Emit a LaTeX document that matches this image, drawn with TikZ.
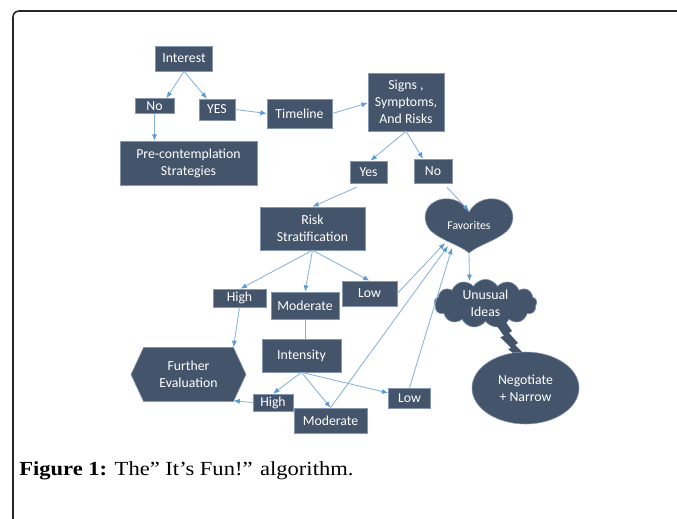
\documentclass[tikz,border=0pt]{standalone}
\usepackage{fontspec}
\setmainfont{Liberation Serif}
\newfontfamily\boxfont{Carlito}
\newfontfamily\captionfont[FakeStretch=1.13]{Liberation Serif}
\usetikzlibrary{arrows.meta,shapes.geometric,shapes.symbols,calc}
\definecolor{slate}{HTML}{44546A}
\definecolor{slateedge}{HTML}{8496B0}
\definecolor{linkblue}{HTML}{8AB0DC}
\definecolor{tipblue}{HTML}{5B9BD5}
\begin{document}
\begin{tikzpicture}[x=0.025cm,y=-0.025cm,
  lbl/.style={font=\boxfont\fontsize{9.8}{12}\selectfont, text=white, align=center},
  slatebox/.style 2 args={lbl, draw=slateedge, line width=0.4pt, fill=slate,
    inner sep=0pt, minimum width=#1*0.025cm, minimum height=#2*0.025cm},
  link/.style={draw=linkblue, line width=0.6pt,
    -{Latex[length=4.5pt,width=3.6pt,color=tipblue]}},
  plainlink/.style={draw=linkblue, line width=0.6pt}]
\useasboundingbox (0,0) rectangle (677,519);

% frame
\draw[line width=1.1pt, black!85, rounded corners=0.15cm] (13,519) -- (13,11) -- (677,11);

% rectangular steps
\node[slatebox={57}{25}] (interest) at (184,58.5) {Interest};
\node[slatebox={39}{15}] (noA) at (154.5,106) {No};
\node[slatebox={36}{21}] (yesA) at (217,109.5) {YES};
\node[slatebox={65}{29}] (timeline) at (299.5,113.5) {Timeline};
\node[slatebox={76}{58}] (signs) at (406,102) {Signs ,\\ Symptoms,\\ And Risks};
\node[slatebox={137}{44}] (precon) at (188.5,163) {Pre-contemplation\\ Strategies};
\node[slatebox={37}{22}] (yesB) at (368.5,172) {Yes};
\node[slatebox={38}{24}] (noB) at (433,171) {No};
\node[slatebox={105}{43}] (risk) at (312.5,228.5) {Risk\\ Stratification};
\node[slatebox={53}{18}] (highA) at (239.5,298) {High};
\node[slatebox={68}{27}] (modA) at (305,305.5) {Moderate};
\node[slatebox={55}{25}] (lowA) at (369.5,293.5) {Low};
\node[slatebox={79}{33}] (intensity) at (301.5,355.5) {Intensity};
\node[slatebox={40}{17}] (highB) at (273,402.5) {High};
\node[slatebox={73}{25}] (modB) at (330.5,420.5) {Moderate};
\node[slatebox={42}{20}] (lowB) at (409.5,398) {Low};

% hexagon
\node[lbl, shape=signal, signal to=east and west, signal pointer angle=130,
  fill=slate, draw=slateedge, line width=0.4pt, inner sep=0pt,
  minimum width=115*0.025cm, minimum height=54*0.025cm] (further) at (188.5,374.5) {Further\\ Evaluation};

% heart
\fill[slate, draw=slateedge, line width=0.4pt] (469,212)
  .. controls (462,199) and (446,196) .. (436,201)
  .. controls (423,207) and (422,222) .. (431,231)
  .. controls (442,241) and (460,245) .. (469,253)
  .. controls (478,245) and (496,241) .. (507,231)
  .. controls (516,222) and (515,207) .. (502,201)
  .. controls (492,196) and (476,199) .. (469,212) -- cycle;
\node[lbl, font=\boxfont\fontsize{8.4}{10}\selectfont] (fav) at (469,225) {Favorites};
\coordinate (favDip) at (469,211);
\coordinate (favTip) at (469,253);
\coordinate (favInA) at (445,243);
\coordinate (favInB) at (448,246);
\coordinate (favInC) at (452,248);

% cloud, bolt and ellipse
\node[lbl, cloud, cloud puffs=13, cloud puff arc=120, aspect=2.3, fill=slate, draw=slateedge, line width=0.4pt,
  inner sep=0pt, minimum width=103*0.025cm, minimum height=47*0.025cm] (ideas) at (485.5,303.5) {Unusual\\ Ideas};
\fill[slate] (494,322) -- (504,336) -- (500,337) -- (511,348) -- (508,349) -- (518,357)
  -- (522,352) -- (515,345) -- (518,343) -- (509,333) -- (512,331) -- (505,321) -- cycle;
\node[lbl, ellipse, fill=slate, draw=slateedge, line width=0.4pt, inner sep=0pt,
  minimum width=107*0.025cm, minimum height=72*0.025cm] (negotiate) at (525.5,388) {Negotiate\\ + Narrow};

% connectors
\draw[link] (interest.south) -- ($(noA.north)+(12,0)$);
\draw[link] (interest.south) -- ($(yesA.north)+(-10,0)$);
\draw[link] (noA.south) -- (noA.south |- precon.north);
\draw[link] (yesA.east) -- (timeline.west);
\draw[link] (timeline.east) -- ($(signs.west)+(0,1)$);
\draw[link] (signs.south) -- ($(yesB.north)+(2,0)$);
\draw[link] (signs.south) -- ($(noB.north)+(-10,0)$);
\draw[link] ($(yesB.south)+(-12,4)$) -- (risk.north);
\draw[link] ($(noB.south)+(14,4)$) -- (favDip);
\draw[link] (risk.south) -- ($(highA.north)+(1,0)$);
\draw[link] (risk.south) -- (modA.north);
\draw[link] (risk.south) -- (lowA.north);
\draw[link] (highA.south) -- ($(further.north)+(45,0)$);
\draw[plainlink] (modA.south) -- (modA.south |- intensity.north);
\draw[link] (intensity.south) -- (highB.north);
\draw[link] (intensity.south) -- (modB.north);
\draw[link] (intensity.south) -- ($(lowB.west)+(0,-5)$);
\draw[link] (highB.west) -- ($(further.south)+(45,-1)$);
\draw[link] (lowA.east) -- (favInA);
\draw[link] (modB.north) -- (favInB);
\draw[link] (lowB.north) -- (favInC);
\draw[link] (favTip) -- ($(ideas.north)+(-16,2)$);

% caption
\node[anchor=base west, font=\captionfont\fontsize{14.2}{16}\selectfont, inner sep=0pt] (caption) at (19,475)
  {\textbf{Figure 1:} The” It’s Fun!” algorithm.};
\end{tikzpicture}
\end{document}
